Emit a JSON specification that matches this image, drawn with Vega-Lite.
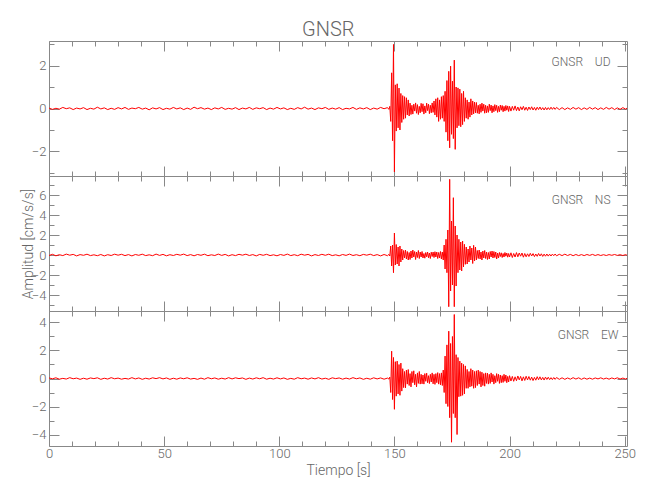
{
"$schema":"https://vega.github.io/schema/vega-lite/v6.json",
"background":"white",
"padding":{"left":20,"top":19,"right":10,"bottom":5},
"title":{"text":"GNSR","fontSize":20,"font":"Roboto","fontWeight":300,"color":"#666","anchor":"middle","offset":-2},
"spacing":0,
"bounds":"flush",
"datasets":{"w":[
{"t":0,"u":0.02,"n":-0.05,"e":0.04},{"t":1.5,"u":-0.04,"n":0.07,"e":-0.02},{"t":3,"u":0.01,"n":-0.08,"e":0.05},{"t":4.5,"u":-0.03,"n":0.03,"e":-0.05},{"t":6,"u":0.05,"n":-0.06,"e":0.01},{"t":7.5,"u":-0.01,"n":0.09,"e":-0.04},{"t":9,"u":0.03,"n":-0.02,"e":0.06},{"t":10.5,"u":-0.05,"n":0.06,"e":-0.02},{"t":12,"u":0.02,"n":-0.09,"e":0.03},{"t":13.5,"u":-0.02,"n":0.04,"e":-0.06},
{"t":15,"u":0.04,"n":-0.03,"e":0.02},{"t":16.5,"u":-0.05,"n":0.08,"e":-0.05},{"t":18,"u":0.01,"n":-0.06,"e":0.04},{"t":19.5,"u":-0.03,"n":0.02,"e":-0.01},{"t":21,"u":0.06,"n":-0.07,"e":0.05},{"t":22.5,"u":-0.02,"n":0.05,"e":-0.06},{"t":24,"u":0.03,"n":-0.09,"e":0.02},{"t":25.5,"u":-0.05,"n":0.03,"e":-0.04},{"t":27,"u":0.01,"n":-0.05,"e":0.06},{"t":28.5,"u":-0.04,"n":0.08,"e":-0.02},
{"t":30,"u":0.04,"n":-0.02,"e":0.03},{"t":31.5,"u":-0.02,"n":0.07,"e":-0.05},{"t":33,"u":0.05,"n":-0.06,"e":0.01},{"t":34.5,"u":-0.04,"n":0.04,"e":-0.04},{"t":36,"u":0.02,"n":-0.09,"e":0.06},{"t":37.5,"u":-0.01,"n":0.05,"e":-0.03},{"t":39,"u":0.05,"n":-0.03,"e":0.04},{"t":40.5,"u":-0.03,"n":0.08,"e":-0.06},{"t":42,"u":0.02,"n":-0.06,"e":0.02},{"t":43.5,"u":-0.06,"n":0.02,"e":-0.04},
{"t":45,"u":0.03,"n":-0.07,"e":0.05},{"t":46.5,"u":-0.02,"n":0.09,"e":-0.01},{"t":48,"u":0.04,"n":-0.04,"e":0.06},{"t":49.5,"u":-0.05,"n":0.06,"e":-0.03},{"t":51,"u":0.01,"n":-0.08,"e":0.04},{"t":52.5,"u":-0.03,"n":0.03,"e":-0.06},{"t":54,"u":0.05,"n":-0.05,"e":0.02},{"t":55.5,"u":-0.02,"n":0.07,"e":-0.05},{"t":57,"u":0.03,"n":-0.02,"e":0.04},{"t":58.5,"u":-0.05,"n":0.09,"e":-0.02},
{"t":60,"u":0.02,"n":-0.06,"e":0.05},{"t":61.5,"u":-0.04,"n":0.04,"e":-0.04},{"t":63,"u":0.06,"n":-0.08,"e":0.01},{"t":64.5,"u":-0.01,"n":0.05,"e":-0.06},{"t":66,"u":0.04,"n":-0.03,"e":0.03},{"t":67.5,"u":-0.03,"n":0.08,"e":-0.05},{"t":69,"u":0.02,"n":-0.07,"e":0.06},{"t":70.5,"u":-0.05,"n":0.02,"e":-0.02},{"t":72,"u":0.03,"n":-0.05,"e":0.04},{"t":73.5,"u":-0.02,"n":0.09,"e":-0.05},
{"t":75,"u":0.05,"n":-0.04,"e":0.02},{"t":76.5,"u":-0.04,"n":0.06,"e":-0.04},{"t":78,"u":0.01,"n":-0.09,"e":0.06},{"t":79.5,"u":-0.03,"n":0.03,"e":-0.03},{"t":81,"u":0.04,"n":-0.06,"e":0.05},{"t":82.5,"u":-0.05,"n":0.07,"e":-0.01},{"t":84,"u":0.02,"n":-0.02,"e":0.04},{"t":85.5,"u":-0.02,"n":0.08,"e":-0.06},{"t":87,"u":0.05,"n":-0.05,"e":0.03},{"t":88.5,"u":-0.04,"n":0.04,"e":-0.04},
{"t":90,"u":0.03,"n":-0.09,"e":0.05},{"t":91.5,"u":-0.01,"n":0.06,"e":-0.02},{"t":93,"u":0.04,"n":-0.03,"e":0.06},{"t":94.5,"u":-0.05,"n":0.07,"e":-0.05},{"t":96,"u":0.02,"n":-0.06,"e":0.02},{"t":97.5,"u":-0.03,"n":0.02,"e":-0.04},{"t":99,"u":0.05,"n":-0.08,"e":0.05},{"t":100.5,"u":-0.02,"n":0.05,"e":-0.03},{"t":102,"u":0.03,"n":-0.04,"e":0.04},{"t":103.5,"u":-0.05,"n":0.09,"e":-0.06},
{"t":105,"u":0.01,"n":-0.06,"e":0.01},{"t":106.5,"u":-0.04,"n":0.03,"e":-0.05},{"t":108,"u":0.04,"n":-0.07,"e":0.06},{"t":109.5,"u":-0.02,"n":0.08,"e":-0.02},{"t":111,"u":0.06,"n":-0.02,"e":0.03},{"t":112.5,"u":-0.03,"n":0.06,"e":-0.05},{"t":114,"u":0.02,"n":-0.09,"e":0.04},{"t":115.5,"u":-0.05,"n":0.04,"e":-0.03},{"t":117,"u":0.03,"n":-0.05,"e":0.06},{"t":118.5,"u":-0.01,"n":0.07,"e":-0.04},
{"t":120,"u":0.05,"n":-0.03,"e":0.02},{"t":121.5,"u":-0.04,"n":0.08,"e":-0.06},{"t":123,"u":0.02,"n":-0.06,"e":0.05},{"t":124.5,"u":-0.03,"n":0.02,"e":-0.01},{"t":126,"u":0.04,"n":-0.08,"e":0.04},{"t":127.5,"u":-0.05,"n":0.05,"e":-0.05},{"t":129,"u":0.01,"n":-0.04,"e":0.03},{"t":130.5,"u":-0.02,"n":0.09,"e":-0.04},{"t":132,"u":0.05,"n":-0.05,"e":0.06},{"t":133.5,"u":-0.04,"n":0.03,"e":-0.02},
{"t":135,"u":0.03,"n":-0.07,"e":0.04},{"t":136.5,"u":-0.02,"n":0.06,"e":-0.06},{"t":138,"u":0.04,"n":-0.02,"e":0.02},{"t":139.5,"u":-0.05,"n":0.08,"e":-0.05},{"t":141,"u":0.02,"n":-0.06,"e":0.05},{"t":142.5,"u":-0.03,"n":0.04,"e":-0.03},{"t":144,"u":0.05,"n":-0.09,"e":0.04},{"t":145.5,"u":-0.01,"n":0.05,"e":-0.05},{"t":147,"u":0.04,"n":-0.07,"e":0.03},
{"t":147.6,"u":-0.04,"n":0.06,"e":-0.04},{"t":148.0,"u":0.1,"n":-0.1,"e":0.1},{"t":148.4,"u":-0.6,"n":0.9,"e":-1.0},{"t":148.8,"u":1.66,"n":-1.1,"e":1.95},{"t":149.2,"u":-1.5,"n":1.0,"e":-1.5},{"t":149.6,"u":2.98,"n":-1.77,"e":1.5},{"t":150.0,"u":-2.95,"n":2.2,"e":-2.2},{"t":150.4,"u":1.1,"n":-1.0,"e":1.2},{"t":150.8,"u":-1.05,"n":1.05,"e":-1.26},{"t":151.2,"u":1.15,"n":-0.9,"e":1.24},
{"t":151.6,"u":-0.9,"n":0.8,"e":-1.1},{"t":152.0,"u":0.95,"n":-1.1,"e":1.0},{"t":152.4,"u":-1.0,"n":0.9,"e":-1.2},{"t":152.8,"u":0.7,"n":-0.7,"e":1.1},{"t":153.2,"u":-0.65,"n":0.6,"e":-0.9},{"t":153.6,"u":0.6,"n":-0.5,"e":0.7},{"t":154.0,"u":-0.5,"n":0.45,"e":-0.65},{"t":154.4,"u":0.55,"n":-0.3,"e":0.5},{"t":154.8,"u":-0.45,"n":0.5,"e":-0.67},{"t":155.2,"u":0.5,"n":-0.4,"e":0.6},
{"t":155.6,"u":-0.3,"n":0.35,"e":-0.4},{"t":156.0,"u":0.4,"n":-0.5,"e":0.64},{"t":156.4,"u":-0.35,"n":0.25,"e":-0.5},{"t":156.8,"u":0.25,"n":-0.45,"e":0.35},{"t":157.2,"u":-0.28,"n":0.4,"e":-0.6},{"t":157.6,"u":0.15,"n":-0.3,"e":0.5},{"t":158.0,"u":-0.26,"n":0.5,"e":-0.3},{"t":158.4,"u":0.2,"n":-0.2,"e":0.55},{"t":158.8,"u":-0.12,"n":0.35,"e":-0.45},{"t":159.2,"u":0.26,"n":-0.45,"e":0.3},
{"t":159.6,"u":-0.22,"n":0.3,"e":-0.6},{"t":160.0,"u":0.18,"n":-0.25,"e":0.4},{"t":160.4,"u":-0.28,"n":0.45,"e":-0.35},{"t":160.8,"u":0.1,"n":-0.35,"e":0.5},{"t":161.2,"u":-0.2,"n":0.3,"e":-0.4},{"t":161.6,"u":0.24,"n":-0.2,"e":0.3},{"t":162.0,"u":-0.15,"n":0.35,"e":-0.38},{"t":162.4,"u":0.22,"n":-0.3,"e":0.25},{"t":162.8,"u":-0.26,"n":0.15,"e":-0.4},{"t":163.2,"u":0.12,"n":-0.32,"e":0.35},
{"t":163.6,"u":-0.2,"n":0.25,"e":-0.2},{"t":164.0,"u":0.25,"n":-0.18,"e":0.38},{"t":164.4,"u":-0.1,"n":0.3,"e":-0.3},{"t":164.8,"u":0.2,"n":-0.28,"e":0.2},{"t":165.2,"u":-0.24,"n":0.2,"e":-0.36},{"t":165.6,"u":0.15,"n":-0.35,"e":0.3},{"t":166.0,"u":-0.2,"n":0.28,"e":-0.25},{"t":166.4,"u":0.26,"n":-0.15,"e":0.4},{"t":166.8,"u":-0.18,"n":0.3,"e":-0.38},{"t":167.2,"u":0.35,"n":-0.25,"e":0.3},
{"t":167.6,"u":-0.3,"n":0.33,"e":-0.42},{"t":168.0,"u":0.45,"n":-0.2,"e":0.35},{"t":168.4,"u":-0.4,"n":0.3,"e":-0.3},{"t":168.8,"u":0.5,"n":-0.35,"e":0.42},{"t":169.2,"u":-0.6,"n":0.25,"e":-0.4},{"t":169.6,"u":0.4,"n":-0.3,"e":0.35},{"t":170.0,"u":-0.5,"n":0.35,"e":-0.45},{"t":170.4,"u":0.55,"n":-0.4,"e":0.4},{"t":170.8,"u":-0.45,"n":0.3,"e":-0.5},{"t":171.2,"u":0.6,"n":-0.5,"e":0.6},
{"t":171.6,"u":-0.6,"n":1.0,"e":-1.0},{"t":172.0,"u":0.8,"n":-1.4,"e":1.6},{"t":172.4,"u":-1.1,"n":1.57,"e":-1.8},{"t":172.8,"u":1.3,"n":-1.77,"e":2.4},{"t":173.2,"u":-1.5,"n":2.5,"e":-2.0},{"t":173.6,"u":1.73,"n":-5.17,"e":3.38},{"t":174.0,"u":-1.83,"n":7.57,"e":-2.8},{"t":174.4,"u":1.97,"n":-3.6,"e":2.5},{"t":174.8,"u":-1.2,"n":3.4,"e":-4.55},{"t":175.2,"u":1.27,"n":-3.0,"e":3.0},
{"t":175.6,"u":-1.4,"n":5.73,"e":-2.5},{"t":176.0,"u":2.25,"n":-5.17,"e":4.57},{"t":176.4,"u":-1.9,"n":2.9,"e":-2.8},{"t":176.8,"u":1.0,"n":-3.1,"e":1.7},{"t":177.2,"u":-0.9,"n":2.0,"e":-4.0},{"t":177.6,"u":0.96,"n":-1.77,"e":1.5},{"t":178.0,"u":-0.8,"n":1.57,"e":-1.3},{"t":178.4,"u":0.9,"n":-1.5,"e":1.24},{"t":178.8,"u":-0.85,"n":1.3,"e":-1.26},{"t":179.2,"u":0.7,"n":-1.6,"e":1.1},
{"t":179.6,"u":-0.75,"n":1.4,"e":-1.2},{"t":180.0,"u":0.8,"n":-1.2,"e":1.0},{"t":180.4,"u":-0.6,"n":1.07,"e":-1.1},{"t":180.8,"u":0.5,"n":-0.93,"e":0.9},{"t":181.2,"u":-0.45,"n":0.8,"e":-0.7},{"t":181.6,"u":0.4,"n":-0.9,"e":0.65},{"t":182.0,"u":-0.5,"n":0.6,"e":-0.7},{"t":182.4,"u":0.3,"n":-0.7,"e":0.5},{"t":182.8,"u":-0.4,"n":0.9,"e":-0.6},{"t":183.2,"u":0.45,"n":-0.5,"e":0.7},
{"t":183.6,"u":-0.3,"n":0.7,"e":-0.55},{"t":184.0,"u":0.35,"n":-0.85,"e":0.6},{"t":184.4,"u":-0.25,"n":0.97,"e":-0.7},{"t":184.8,"u":0.3,"n":-0.6,"e":0.5},{"t":185.2,"u":-0.2,"n":0.8,"e":-0.65},{"t":185.6,"u":0.28,"n":-0.5,"e":0.55},{"t":186.0,"u":-0.22,"n":0.45,"e":-0.5},{"t":186.4,"u":0.15,"n":-0.35,"e":0.6},{"t":186.8,"u":-0.25,"n":0.5,"e":-0.4},{"t":187.2,"u":0.2,"n":-0.4,"e":0.5},
{"t":187.6,"u":-0.18,"n":0.3,"e":-0.6},{"t":188.0,"u":0.25,"n":-0.5,"e":0.45},{"t":188.4,"u":-0.12,"n":0.4,"e":-0.5},{"t":188.8,"u":0.2,"n":-0.3,"e":0.35},{"t":189.2,"u":-0.22,"n":0.45,"e":-0.55},{"t":189.6,"u":0.15,"n":-0.35,"e":0.4},{"t":190.0,"u":-0.2,"n":0.3,"e":-0.35},{"t":190.4,"u":0.12,"n":-0.45,"e":0.38},{"t":190.8,"u":-0.18,"n":0.25,"e":-0.4},{"t":191.2,"u":0.2,"n":-0.4,"e":0.3},
{"t":191.6,"u":-0.1,"n":0.35,"e":-0.35},{"t":192.0,"u":0.16,"n":-0.2,"e":0.4},{"t":192.4,"u":-0.2,"n":0.4,"e":-0.25},{"t":192.8,"u":0.12,"n":-0.3,"e":0.3},{"t":193.2,"u":-0.15,"n":0.35,"e":-0.4},{"t":193.6,"u":0.18,"n":-0.25,"e":0.2},{"t":194.0,"u":-0.1,"n":0.3,"e":-0.3},{"t":194.4,"u":0.15,"n":-0.4,"e":0.35},{"t":194.8,"u":-0.18,"n":0.2,"e":-0.2},{"t":195.2,"u":0.1,"n":-0.3,"e":0.3},
{"t":195.6,"u":-0.15,"n":0.25,"e":-0.35},{"t":196.0,"u":0.16,"n":-0.15,"e":0.25},{"t":196.4,"u":-0.08,"n":0.22,"e":-0.3},{"t":196.8,"u":0.14,"n":-0.25,"e":0.2},{"t":197.2,"u":-0.15,"n":0.15,"e":-0.28},{"t":197.6,"u":0.1,"n":-0.2,"e":0.3},{"t":198.0,"u":-0.12,"n":0.25,"e":-0.2},{"t":198.4,"u":0.14,"n":-0.12,"e":0.25},{"t":198.8,"u":-0.08,"n":0.2,"e":-0.3},{"t":199.2,"u":0.12,"n":-0.22,"e":0.15},
{"t":199.6,"u":-0.14,"n":0.15,"e":-0.25},{"t":200.0,"u":0.1,"n":-0.2,"e":0.2},
{"t":200.6,"u":-0.12,"n":0.22,"e":-0.18},{"t":201.2,"u":0.1,"n":-0.25,"e":0.15},{"t":201.8,"u":-0.08,"n":0.15,"e":-0.2},{"t":202.4,"u":0.12,"n":-0.2,"e":0.12},{"t":203.0,"u":-0.1,"n":0.24,"e":-0.16},{"t":203.6,"u":0.07,"n":-0.18,"e":0.18},{"t":204.2,"u":-0.11,"n":0.2,"e":-0.1},{"t":204.8,"u":0.08,"n":-0.12,"e":0.15},{"t":205.4,"u":-0.06,"n":0.2,"e":-0.17},{"t":206.0,"u":0.1,"n":-0.22,"e":0.12},
{"t":206.6,"u":-0.08,"n":0.15,"e":-0.14},{"t":207.2,"u":0.06,"n":-0.18,"e":0.16},{"t":207.8,"u":-0.09,"n":0.12,"e":-0.1},{"t":208.4,"u":0.07,"n":-0.15,"e":0.14},{"t":209.0,"u":-0.05,"n":0.17,"e":-0.12},{"t":209.6,"u":0.08,"n":-0.1,"e":0.1},{"t":210.2,"u":-0.07,"n":0.14,"e":-0.15},{"t":210.8,"u":0.05,"n":-0.16,"e":0.08},{"t":211.4,"u":-0.08,"n":0.1,"e":-0.12},{"t":212.0,"u":0.06,"n":-0.13,"e":0.13},
{"t":212.6,"u":-0.05,"n":0.15,"e":-0.09},{"t":213.2,"u":0.07,"n":-0.1,"e":0.12},{"t":213.8,"u":-0.06,"n":0.12,"e":-0.1},{"t":214.4,"u":0.04,"n":-0.14,"e":0.08},{"t":215.0,"u":-0.07,"n":0.09,"e":-0.11},{"t":215.6,"u":0.05,"n":-0.12,"e":0.1},{"t":216.2,"u":-0.06,"n":0.1,"e":-0.07},{"t":216.8,"u":0.04,"n":-0.11,"e":0.09},{"t":217.4,"u":-0.05,"n":0.08,"e":-0.08},{"t":218.0,"u":0.06,"n":-0.1,"e":0.06},
{"t":218.6,"u":-0.04,"n":0.09,"e":-0.08},{"t":219.2,"u":0.05,"n":-0.07,"e":0.07},{"t":219.8,"u":-0.04,"n":0.1,"e":-0.06},{"t":220.4,"u":0.05,"n":-0.08,"e":0.07},
{"t":221.6,"u":-0.05,"n":0.07,"e":-0.06},{"t":222.8,"u":0.04,"n":-0.06,"e":0.05},{"t":224.0,"u":-0.05,"n":0.08,"e":-0.06},{"t":225.2,"u":0.03,"n":-0.05,"e":0.04},{"t":226.4,"u":-0.04,"n":0.06,"e":-0.05},{"t":227.6,"u":0.05,"n":-0.07,"e":0.06},{"t":228.8,"u":-0.03,"n":0.05,"e":-0.04},{"t":230.0,"u":0.04,"n":-0.06,"e":0.05},{"t":231.2,"u":-0.05,"n":0.04,"e":-0.06},{"t":232.4,"u":0.03,"n":-0.06,"e":0.04},
{"t":233.6,"u":-0.04,"n":0.05,"e":-0.05},{"t":234.8,"u":0.05,"n":-0.04,"e":0.03},{"t":236.0,"u":-0.03,"n":0.06,"e":-0.05},{"t":237.2,"u":0.04,"n":-0.05,"e":0.04},{"t":238.4,"u":-0.05,"n":0.04,"e":-0.03},{"t":239.6,"u":0.03,"n":-0.05,"e":0.05},{"t":240.8,"u":-0.04,"n":0.03,"e":-0.04},{"t":242.0,"u":0.05,"n":-0.05,"e":0.03},{"t":243.2,"u":-0.03,"n":0.04,"e":-0.05},{"t":244.4,"u":0.04,"n":-0.03,"e":0.04},
{"t":245.6,"u":-0.05,"n":0.05,"e":-0.03},{"t":246.8,"u":0.03,"n":-0.04,"e":0.05},{"t":248.0,"u":-0.04,"n":0.03,"e":-0.04},{"t":249.2,"u":0.04,"n":-0.05,"e":0.03},{"t":250.4,"u":-0.03,"n":0.04,"e":-0.04},{"t":251,"u":0.02,"n":-0.03,"e":0.02}
]},
"vconcat":[
{"width":578,"height":135,"data":{"name":"w"},
 "title":{"text":"GNSR\u00a0\u00a0\u00a0\u00a0UD","anchor":"end","orient":"top","offset":-31,"dx":-17,"fontSize":12,"font":"Roboto","fontWeight":300,"color":"#666"},
 "layer":[
  {"mark":{"type":"line","color":"#ff0000","strokeWidth":1,"clip":true},
   "encoding":{
    "x":{"field":"t","type":"quantitative","scale":{"domain":[0,251],"nice":false,"zero":false},
         "axis":{"orient":"bottom","values":[0,10,20,30,40,50,60,70,80,90,100,110,120,130,140,150,160,170,180,190,200,210,220,230,240,250],"labels":false,"title":null,"tickSize":{"condition":{"test":"datum.value % 50 === 0","value":-10},"value":-5}}},
    "y":{"field":"u","type":"quantitative","scale":{"domain":[-3.14,3.14],"nice":false,"zero":false},
         "axis":{"orient":"left","values":[-3,-2,-1,0,1,2,3],"labelExpr":"datum.value % 2 === 0 ? datum.label : ''","tickSize":{"condition":{"test":"datum.value % 2 === 0","value":-10},"value":-5},"labelPadding":13,"minExtent":13,"maxExtent":13,"title":null}}
   }},
  {"mark":{"type":"line","opacity":0},
   "encoding":{
    "x":{"field":"t","type":"quantitative","axis":{"orient":"top","values":[0,10,20,30,40,50,60,70,80,90,100,110,120,130,140,150,160,170,180,190,200,210,220,230,240,250],"labels":false,"title":null,"tickSize":{"condition":{"test":"datum.value % 50 === 0","value":-10},"value":-5}}},
    "y":{"field":"u","type":"quantitative","axis":{"orient":"right","values":[-3,-2,-1,0,1,2,3],"labels":false,"title":null,"tickSize":{"condition":{"test":"datum.value % 2 === 0","value":-10},"value":-5}}}
   }}
 ],
 "resolve":{"axis":{"x":"independent","y":"independent"}}
},
{"width":578,"height":135,"data":{"name":"w"},
 "title":{"text":"GNSR\u00a0\u00a0\u00a0\u00a0NS","anchor":"end","orient":"top","offset":-31,"dx":-17,"fontSize":12,"font":"Roboto","fontWeight":300,"color":"#666"},
 "layer":[
  {"mark":{"type":"line","color":"#ff0000","strokeWidth":1,"clip":true},
   "encoding":{
    "x":{"field":"t","type":"quantitative","scale":{"domain":[0,251],"nice":false,"zero":false},
         "axis":{"orient":"bottom","values":[0,10,20,30,40,50,60,70,80,90,100,110,120,130,140,150,160,170,180,190,200,210,220,230,240,250],"labels":false,"title":null,"tickSize":{"condition":{"test":"datum.value % 50 === 0","value":-10},"value":-5}}},
    "y":{"field":"n","type":"quantitative","scale":{"domain":[-5.6,7.9],"nice":false,"zero":false},
         "axis":{"orient":"left","values":[-5,-4,-3,-2,-1,0,1,2,3,4,5,6,7],"labelExpr":"datum.value % 2 === 0 ? datum.label : ''","tickSize":{"condition":{"test":"datum.value % 2 === 0","value":-10},"value":-5},"labelPadding":13,"minExtent":13,"maxExtent":13,"title":"Amplitud [cm/s/s]","titlePadding":1}}
   }},
  {"mark":{"type":"line","opacity":0},
   "encoding":{
    "x":{"field":"t","type":"quantitative","axis":{"orient":"top","values":[0,10,20,30,40,50,60,70,80,90,100,110,120,130,140,150,160,170,180,190,200,210,220,230,240,250],"labels":false,"title":null,"tickSize":{"condition":{"test":"datum.value % 50 === 0","value":-10},"value":-5}}},
    "y":{"field":"n","type":"quantitative","axis":{"orient":"right","values":[-5,-4,-3,-2,-1,0,1,2,3,4,5,6,7],"labels":false,"title":null,"tickSize":{"condition":{"test":"datum.value % 2 === 0","value":-10},"value":-5}}}
   }}
 ],
 "resolve":{"axis":{"x":"independent","y":"independent"}}
},
{"width":578,"height":135,"data":{"name":"w"},
 "title":{"text":"GNSR\u00a0\u00a0\u00a0\u00a0EW","anchor":"end","orient":"top","offset":-31,"dx":-17,"fontSize":12,"font":"Roboto","fontWeight":300,"color":"#666"},
 "layer":[
  {"mark":{"type":"line","color":"#ff0000","strokeWidth":1,"clip":true},
   "encoding":{
    "x":{"field":"t","type":"quantitative","scale":{"domain":[0,251],"nice":false,"zero":false},
         "axis":{"orient":"bottom","values":[0,10,20,30,40,50,60,70,80,90,100,110,120,130,140,150,160,170,180,190,200,210,220,230,240,250],"labelExpr":"datum.value % 50 === 0 ? datum.label : ''","labelPadding":11,"title":"Tiempo [s]","titlePadding":-2,"tickSize":{"condition":{"test":"datum.value % 50 === 0","value":-10},"value":-5}}},
    "y":{"field":"e","type":"quantitative","scale":{"domain":[-4.82,4.82],"nice":false,"zero":false},
         "axis":{"orient":"left","values":[-4,-3,-2,-1,0,1,2,3,4],"labelExpr":"datum.value % 2 === 0 ? datum.label : ''","tickSize":{"condition":{"test":"datum.value % 2 === 0","value":-10},"value":-5},"labelPadding":13,"minExtent":13,"maxExtent":13,"title":null}}
   }},
  {"mark":{"type":"line","opacity":0},
   "encoding":{
    "x":{"field":"t","type":"quantitative","axis":{"orient":"top","values":[0,10,20,30,40,50,60,70,80,90,100,110,120,130,140,150,160,170,180,190,200,210,220,230,240,250],"labels":false,"title":null,"tickSize":{"condition":{"test":"datum.value % 50 === 0","value":-10},"value":-5}}},
    "y":{"field":"e","type":"quantitative","axis":{"orient":"right","values":[-4,-3,-2,-1,0,1,2,3,4],"labels":false,"title":null,"tickSize":{"condition":{"test":"datum.value % 2 === 0","value":-10},"value":-5}}}
   }}
 ],
 "resolve":{"axis":{"x":"independent","y":"independent"}}
}
],
"config":{
 "view":{"stroke":"#888","strokeWidth":1},
 "axis":{"domain":false,"grid":false,"labelFont":"Roboto","labelFontWeight":300,"labelFontSize":13,"labelColor":"#666","labelFlush":false,"labelOverlap":false,"labelBound":false,"tickColor":"#888","titleFont":"Roboto","titleFontSize":14,"titleFontWeight":300,"titleColor":"#666"}
}
}
